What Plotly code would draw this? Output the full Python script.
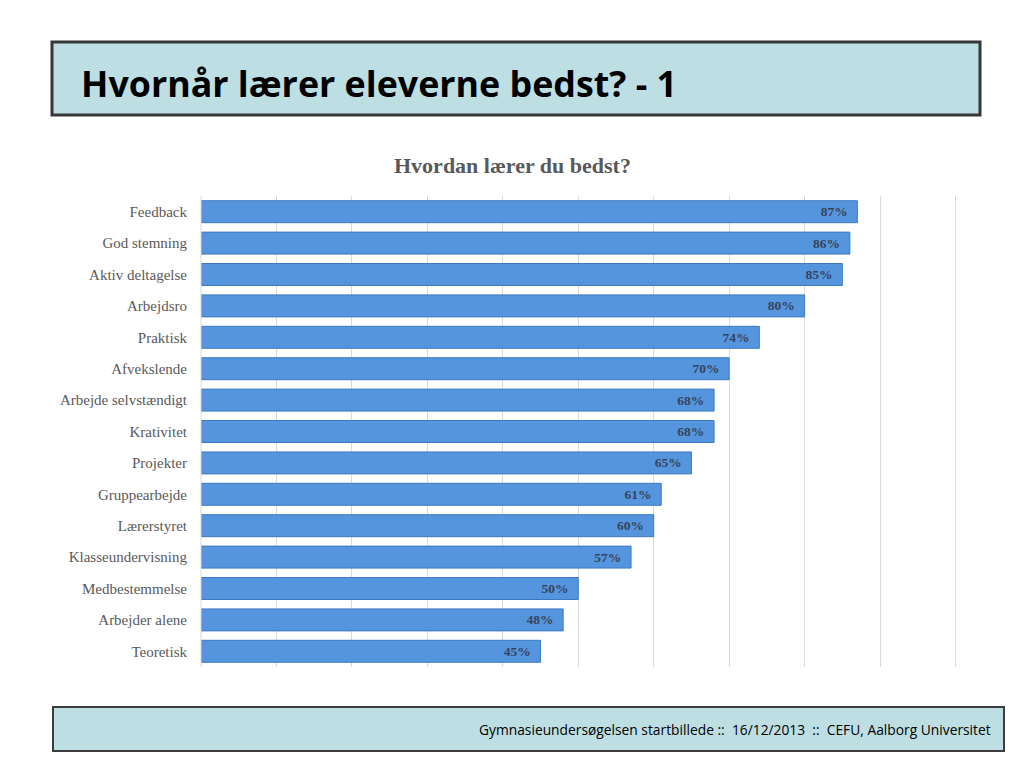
import plotly.graph_objects as go

categories = ["Feedback", "God stemning", "Aktiv deltagelse", "Arbejdsro", "Praktisk",
              "Afvekslende", "Arbejde selvstændigt", "Krativitet", "Projekter",
              "Gruppearbejde", "Lærerstyret", "Klasseundervisning", "Medbestemmelse",
              "Arbejder alene", "Teoretisk"]
values = [87, 86, 85, 80, 74, 70, 68, 68, 65, 61, 60, 57, 50, 48, 45]
tick_values = [0, 10, 20, 30, 40, 50, 60, 70, 80, 90, 100]

slide_title = "Hvornår lærer eleverne bedst? - 1"
chart_title = "Hvordan lærer du bedst?"
footer_text = "Gymnasieundersøgelsen startbillede ::  16/12/2013  ::  CEFU, Aalborg Universitet"

OFF = 8  # page body margin
W, H = 1024 - OFF, 768 - OFF
L, R, T, B = 201 - OFF, 957 - OFF, 196 - OFF, 667 - OFF

def px(x):
    return (x - OFF - L) / (R - L)

def py(y):
    return (B - (y - OFF)) / (B - T)

fig = go.Figure()
fig.add_trace(go.Bar(
    y=categories, x=values, orientation="h",
    marker=dict(color="#5595de", line=dict(color="#3d79c4", width=1)),
    text=[f"{v}%\u2002" for v in values], textposition="inside", insidetextanchor="end",
    textfont=dict(family="Liberation Serif", size=13.5, color="#37435a", weight="bold"),
    cliponaxis=False, hoverinfo="skip",
))

fig.update_layout(
    width=W, height=H,
    margin=dict(l=L, r=W - R, t=T, b=H - B, autoexpand=False),
    paper_bgcolor="white", plot_bgcolor="white",
    bargap=0.3, showlegend=False,
    xaxis=dict(range=[0, 100.2], tickvals=tick_values, showticklabels=False,
               showgrid=True, gridcolor="#d9d9d9", gridwidth=1, zeroline=False,
               fixedrange=True),
    yaxis=dict(autorange="reversed", showgrid=False, zeroline=False, ticks="",
               tickfont=dict(family="Liberation Serif", size=15, color="#595959"),
               ticklabelstandoff=13, fixedrange=True),
    shapes=[
        dict(type="rect", xref="paper", yref="paper",
             x0=px(52), x1=px(980), y0=py(42), y1=py(115),
             fillcolor="#bddfe3", line=dict(color="#363636", width=3), layer="below"),
        dict(type="rect", xref="paper", yref="paper",
             x0=px(53), x1=px(1004), y0=py(707), y1=py(751),
             fillcolor="#bddfe3", line=dict(color="#3c3c3c", width=2), layer="below"),
        dict(type="line", xref="paper", yref="paper",
             x0=0, x1=0, y0=0, y1=1, line=dict(color="#d9d9d9", width=1)),
    ],
    annotations=[
        dict(text=slide_title, xref="paper", yref="paper", x=px(79), y=py(83),
             xanchor="left", yanchor="middle", showarrow=False,
             font=dict(family="Open Sans", size=35.8, color="#000000", weight="bold")),
        dict(text=chart_title, xref="paper", yref="paper", x=px(512), y=py(165),
             xanchor="center", yanchor="middle", showarrow=False,
             font=dict(family="Liberation Serif", size=22, color="#595959", weight="bold")),
        dict(text=footer_text, xref="paper", yref="paper", x=px(993), y=py(729),
             xanchor="right", yanchor="middle", showarrow=False,
             font=dict(family="Open Sans", size=13.8, color="#000000")),
    ],
)

fig.write_html("out.html")
